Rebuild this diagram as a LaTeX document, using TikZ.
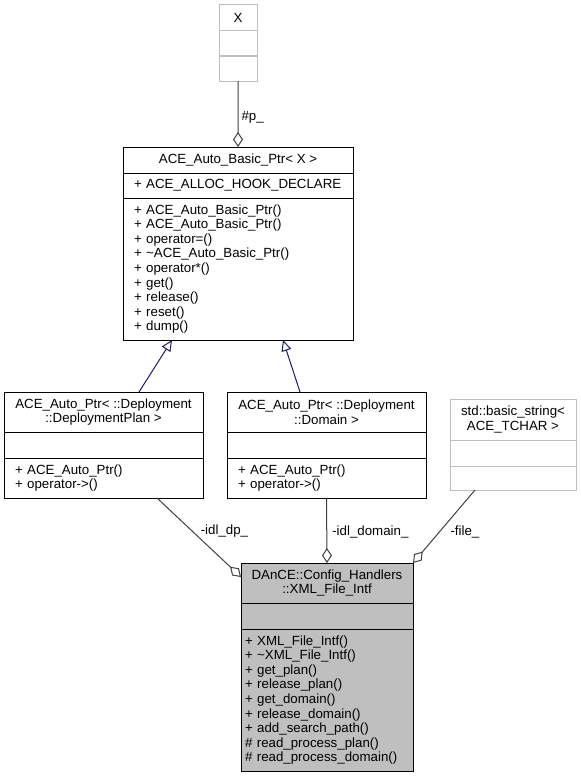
\documentclass[tikz,border=0pt]{standalone}
\usepackage{fontspec}
\setmainfont{Liberation Sans}
\usetikzlibrary{arrows.meta}
\definecolor{edgegray}{HTML}{404040}
\definecolor{boxgray}{HTML}{BFBFBF}
\definecolor{inhblue}{HTML}{191970}
\begin{document}
\begin{tikzpicture}[x=1bp,y=-1bp,line width=1bp,
  font=\fontsize{13.35}{14.65}\selectfont,
  part/.style={draw,rectangle,anchor=north west,inner sep=0pt,outer sep=0pt},
  titlepart/.style={part,align=center},
  memberpart/.style={part,align=left,inner xsep=#1},
  extbox/.style={draw=boxgray},
  focusbox/.style={fill=boxgray},
  assoc/.style={draw=edgegray,-{Diamond[open,fill=white,length=15bp,width=10bp]}},
  inherit/.style={draw=inhblue,-{Triangle[open,fill=white,length=11bp,width=10bp]}},
  role/.style={text=black,inner sep=0pt}
]
\useasboundingbox (0,0) rectangle (581,779);
% drawing nodes
% template argument
\node[titlepart,extbox,minimum width=38bp,minimum height=26bp] (xname) at (219,5) {X};
\node[part,extbox,minimum width=38bp,minimum height=25bp] (xattr) at (219,31) {};
\node[part,extbox,minimum width=38bp,minimum height=25bp] (xops) at (219,56) {};
% base class
\node[titlepart,minimum width=230bp,minimum height=26bp] (base) at (123,147) {ACE\_Auto\_Basic\_Ptr< X >};
\node[memberpart=11bp,text width=208bp,minimum width=230bp,minimum height=25bp] (baseattr) at (123,173) {+ ACE\_ALLOC\_HOOK\_DECLARE};
\node[memberpart=11bp,text width=208bp,minimum width=230bp,minimum height=142bp] (baseops) at (123,198)
  {+ ACE\_Auto\_Basic\_Ptr()\\+ ACE\_Auto\_Basic\_Ptr()\\+ operator=()\\+ \textasciitilde{}ACE\_Auto\_Basic\_Ptr()\\+ operator*()\\+ get()\\+ release()\\+ reset()\\+ dump()};
% derived classes
\node[titlepart,minimum width=199bp,minimum height=40bp] (plan) at (4,392) {ACE\_Auto\_Ptr< ::Deployment\\::DeploymentPlan >};
\node[part,minimum width=199bp,minimum height=26bp] (planattr) at (4,432) {};
\node[memberpart=11bp,text width=177bp,minimum width=199bp,minimum height=40bp] (planops) at (4,458) {+ ACE\_Auto\_Ptr()\\+ operator->()};
\node[titlepart,minimum width=199bp,minimum height=40bp] (domain) at (227,392) {ACE\_Auto\_Ptr< ::Deployment\\::Domain >};
\node[part,minimum width=199bp,minimum height=26bp] (domainattr) at (227,432) {};
\node[memberpart=11bp,text width=177bp,minimum width=199bp,minimum height=40bp] (domainops) at (227,458) {+ ACE\_Auto\_Ptr()\\+ operator->()};
% string
\node[titlepart,extbox,minimum width=126bp,minimum height=41bp] (string) at (450,399) {std::basic\_string<\\ACE\_TCHAR >};
\node[part,extbox,minimum width=126bp,minimum height=26bp] (stringattr) at (450,440) {};
\node[part,extbox,minimum width=126bp,minimum height=24bp] (stringops) at (450,466) {};
% main class
\node[titlepart,focusbox,minimum width=172bp,minimum height=40bp] (main) at (241,563) {DAnCE::Config\_Handlers\\::XML\_File\_Intf};
\node[part,focusbox,minimum width=172bp,minimum height=26bp] (mainattr) at (241,603) {};
\node[memberpart=4bp,focusbox,text width=164bp,minimum width=172bp,minimum height=142bp] (mainops) at (241,629)
  {+ XML\_File\_Intf()\\+ \textasciitilde{}XML\_File\_Intf()\\+ get\_plan()\\+ release\_plan()\\+ get\_domain()\\+ release\_domain()\\+ add\_search\_path()\\\# read\_process\_plan()\\\# read\_process\_domain()};
% drawing edges
\draw[assoc] (xops.south) -- (base.north) node[role,pos=0.55,anchor=west,xshift=3bp] {\#p\_};
\draw[inherit] ([xshift=35.5bp]plan.north) -- ([xshift=-66bp]baseops.south);
\draw[inherit] ([xshift=-26.5bp]domain.north) -- ([xshift=45bp]baseops.south);
\draw[assoc] ([xshift=53.5bp]planops.south) -- ([yshift=6bp]main.west) node[role,pos=0.42,anchor=west,xshift=8bp] {-idl\_dp\_};
\draw[assoc] (domainops.south) -- (main.north) node[role,pos=0.53,anchor=west,xshift=5bp] {-idl\_domain\_};
\draw[assoc] ([xshift=-38bp]stringops.south) -- (main.north east) node[role,pos=0.58,anchor=west,xshift=11bp] {-file\_};
\end{tikzpicture}
\end{document}
